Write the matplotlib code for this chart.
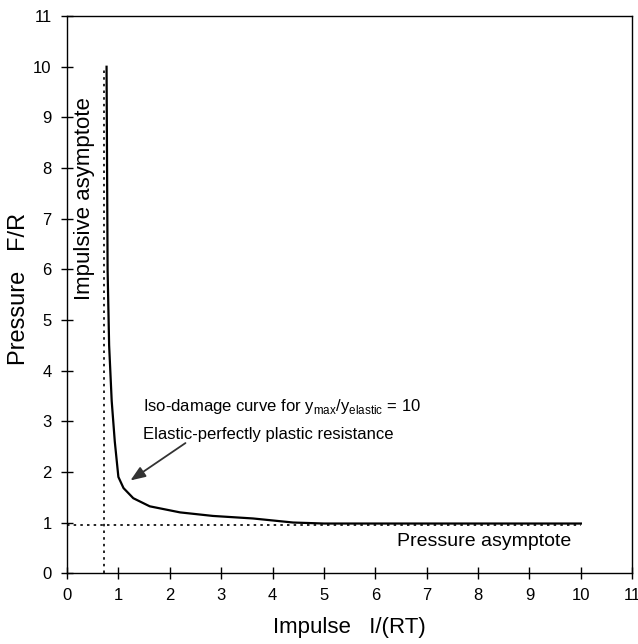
import matplotlib.pyplot as plt
import numpy as np

plt.rcParams['font.family'] = ['Liberation Sans', 'DejaVu Sans']

# iso-damage curve (impulse, pressure)
impulse = [0.77, 0.78, 0.79, 0.82, 0.87, 0.93, 0.97, 1.00, 1.10, 1.29, 1.61, 2.20, 2.84, 3.62, 4.40, 5.00, 6.50, 8.00, 10.0]
pressure = [10.0, 8.0, 6.0, 4.5, 3.4, 2.6, 2.2, 1.90, 1.68, 1.48, 1.32, 1.20, 1.13, 1.08, 1.00, 0.98, 0.98, 0.98, 0.98]

impulse_asym = 0.72
pressure_asym = 0.95

fig = plt.figure(figsize=(6.38, 6.44), dpi=100)
ax = fig.add_axes([0.105, 0.110, 0.886, 0.865])

ax.plot(impulse, pressure, color='black', lw=1.6, zorder=3)
ax.plot([impulse_asym, impulse_asym], [0, 10], color='black', lw=1.2, ls=(0, (1.5, 2.5)))
ax.plot([0, 10], [pressure_asym, pressure_asym], color='black', lw=1.2, ls=(0, (1.5, 2.5)))

ax.set_xlim(0, 11)
ax.set_ylim(0, 11)
ax.set_xticks(range(0, 12))
ax.set_yticks(range(0, 12))
ax.tick_params(direction='inout', length=8, width=1, labelsize=12, pad=7)
for s in ax.spines.values():
    s.set_linewidth(1)

ax.set_xlabel('Impulse   I/(RT)', fontsize=16)
ax.set_ylabel('Pressure   F/R', fontsize=17)
ax.xaxis.set_label_coords(0.5, -0.079)
ax.yaxis.set_label_coords(-0.066, 0.51)

ax.text(0.35, 7.4, 'Impulsive asymptote', rotation=90, fontsize=16,
        ha='center', va='center', clip_on=True)
ax.text(1.48, 3.3, 'Iso-damage curve for y$_{\\mathregular{max}}$/y$_{\\mathregular{elastic}}$ = 10',
        fontsize=12, va='center')
ax.text(1.48, 2.73, 'Elastic-perfectly plastic resistance', fontsize=12, va='center')
ax.annotate('', xy=(1.19, 1.80), xytext=(2.35, 2.6),
            arrowprops=dict(arrowstyle='-|>,head_length=0.9,head_width=0.35',
                            color='#333333', lw=1.3))
ax.text(6.42, 0.63, 'Pressure asymptote', fontsize=14, va='center')

fig.savefig('out.png', dpi=100)
